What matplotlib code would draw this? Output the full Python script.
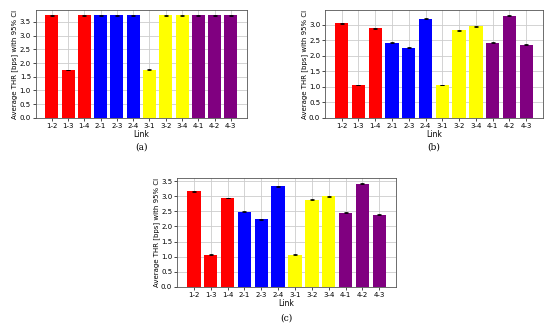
import matplotlib
matplotlib.use('Agg')
import matplotlib.pyplot as plt
from matplotlib.ticker import MultipleLocator, FormatStrFormatter
import numpy as np

links = ['1-2', '1-3', '1-4', '2-1', '2-3', '2-4', '3-1', '3-2', '3-4', '4-1', '4-2', '4-3']
bar_colors = ['red'] * 3 + ['blue'] * 3 + ['yellow'] * 3 + ['purple'] * 3

thr_a = [3.73, 1.75, 3.73, 3.73, 3.73, 3.73, 1.76, 3.73, 3.73, 3.73, 3.73, 3.73]
thr_b = [3.04, 1.06, 2.89, 2.42, 2.26, 3.19, 1.06, 2.82, 2.95, 2.42, 3.29, 2.36]
thr_c = [3.16, 1.06, 2.94, 2.48, 2.23, 3.32, 1.07, 2.88, 3.00, 2.45, 3.41, 2.38]

ci_a = [0.01, 0.01, 0.01, 0.01, 0.01, 0.01, 0.015, 0.01, 0.01, 0.01, 0.01, 0.01]
ci_b = [0.015, 0.015, 0.015, 0.015, 0.015, 0.015, 0.015, 0.015, 0.02, 0.015, 0.015, 0.015]
ci_c = [0.015, 0.015, 0.015, 0.015, 0.015, 0.015, 0.015, 0.015, 0.015, 0.015, 0.015, 0.015]

fig = plt.figure(figsize=(5.5, 3.25), dpi=100)

panels = [
    (thr_a, ci_a, [0.065, 0.637, 0.384, 0.332], '(a)', 0.257, 0.548),
    (thr_b, ci_b, [0.591, 0.637, 0.396, 0.332], '(b)', 0.789, 0.548),
    (thr_c, ci_c, [0.322, 0.117, 0.398, 0.335], '(c)', 0.521, 0.022),
]

for vals, ci, pos, tag, cx, cy in panels:
    ax = fig.add_axes(pos)
    x = np.arange(len(links))
    ax.bar(x, vals, width=0.8, color=bar_colors, yerr=ci, capsize=1.5,
           error_kw={'elinewidth': 0.6, 'capthick': 0.6, 'ecolor': 'black'}, zorder=2)
    ax.set_xticks(x)
    ax.set_xticklabels(links)
    ax.yaxis.set_major_locator(MultipleLocator(0.5))
    ax.yaxis.set_major_formatter(FormatStrFormatter('%.1f'))
    ax.grid(True, color='#cccccc', linewidth=0.6, zorder=0)
    ax.set_axisbelow(True)
    ax.tick_params(labelsize=5, length=2, width=0.5, pad=1.5)
    ax.set_xlabel('Link', fontsize=5.5, labelpad=0.5)
    ax.set_ylabel('Average THR [bps] with 95% CI', fontsize=5, labelpad=1)
    for s in ax.spines.values():
        s.set_linewidth(0.6)
        s.set_color('#555555')
    fig.text(cx, cy, tag, ha='center', va='center', fontsize=6.5, family='DejaVu Serif')

fig.savefig('out.png', dpi=100)
